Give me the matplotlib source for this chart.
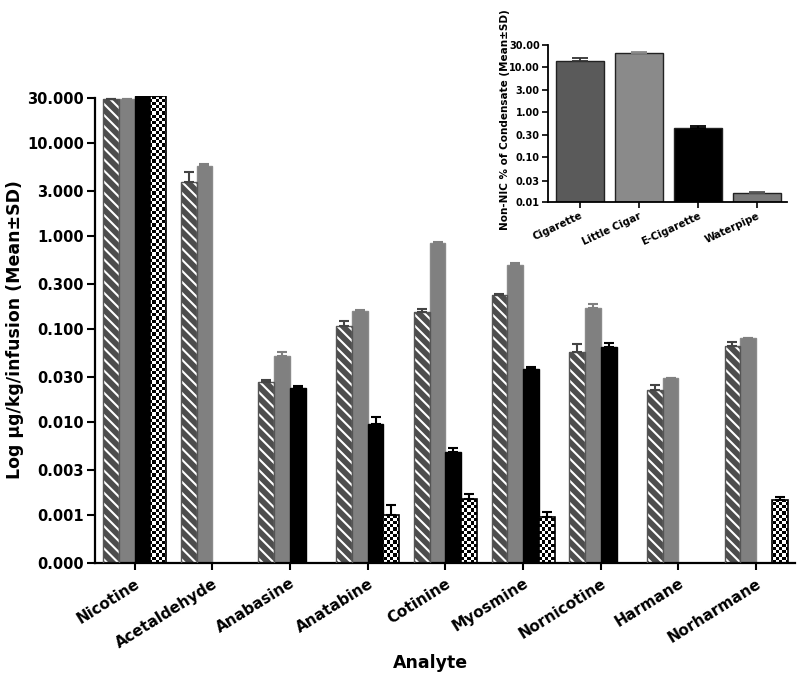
import numpy as np
import matplotlib
matplotlib.use("Agg")
import matplotlib.pyplot as plt
from matplotlib.ticker import FixedLocator, NullLocator

plt.rcParams['font.family'] = ['DejaVu Sans']
plt.rcParams['font.weight'] = 'bold'
plt.rcParams['hatch.linewidth'] = 1.5

analytes = ["Nicotine", "Acetaldehyde", "Anabasine", "Anatabine", "Cotinine",
            "Myosmine", "Nornicotine", "Harmane", "Norharmane"]
series_names = ["Cigarette", "Little Cigar", "E-Cigarette", "Waterpipe"]
nan = np.nan
cig_mean = [29.5, 3.8, 0.0265, 0.106, 0.152, 0.232, 0.0566, 0.0221, 0.0656]
cig_sd = [0.3, 1.04, 0.0016, 0.015, 0.011, 0.006, 0.012, 0.003, 0.007]
lc_mean = [29.5, 5.66, 0.0505, 0.156, 0.84, 0.487, 0.168, 0.0293, 0.0788]
lc_sd = [0.2, 0.29, 0.006, 0.002, 0.015, 0.018, 0.016, 0.0005, 0.001]
ec_mean = [31.5, nan, 0.0229, 0.0095, 0.00476, 0.0369, 0.063, nan, nan]
ec_sd = [0.3, nan, 0.001, 0.0016, 0.0004, 0.002, 0.007, nan, nan]
wp_mean = [31.5, nan, nan, 0.0010, 0.00146, 0.00095, nan, nan, 0.00145]
wp_sd = [0.3, nan, nan, 0.00027, 0.00021, 0.00011, nan, nan, 0.0001]

main_ticks = [0.0003, 0.001, 0.003, 0.01, 0.03, 0.1, 0.3, 1, 3, 10, 30]
main_ticklabels = ["0.000", "0.001", "0.003", "0.010", "0.030", "0.100",
                   "0.300", "1.000", "3.000", "10.000", "30.000"]

inset_cats = ["Cigarette", "Little Cigar", "E-Cigarette", "Waterpipe"]
inset_mean = [13.1, 20.4, 0.44, 0.0158]
inset_sd = [2.1, 0.4, 0.04, 0.0009]
inset_ticks = [0.01, 0.03, 0.1, 0.3, 1, 3, 10, 30]
inset_ticklabels = ["0.01", "0.03", "0.10", "0.30", "1.00", "3.00", "10.00", "30.00"]

fig = plt.figure(figsize=(8, 6.77), dpi=100)
ax = fig.add_axes([95 / 800, 1 - 563.3 / 677, 700 / 800, 467.6 / 677])
ax.set_yscale('log')
ymin, ymax = 0.0003, 32
ax.set_ylim(ymin, ymax)
ax.set_xlim(-0.51, 8.5)

x = np.arange(len(analytes))
w = 0.203
offs = [-1.5 * w, -0.5 * w, 0.5 * w, 1.5 * w]

# checkerboard image
ncx, ncy = int(700 / 3.2), int(467.6 / 3.2)
cb = (np.add.outer(np.arange(ncy), np.arange(ncx)) % 2).astype(float)

def draw_errors(xs, m, s, color):
    m = np.asarray(m, float); s = np.asarray(s, float)
    ok = ~np.isnan(m)
    ax.errorbar(xs[ok], m[ok], yerr=[np.zeros(ok.sum()), s[ok]], fmt='none',
                ecolor=color, elinewidth=1.5, capsize=3.5, capthick=1.5, zorder=4)

# Cigarette: hatched
m = np.asarray(cig_mean, float)
ok = ~np.isnan(m)
xs = x + offs[0]
ax.bar(xs[ok], m[ok] - ymin, w, bottom=ymin, color='#4d4d4d', edgecolor='white',
       hatch='\\\\\\', linewidth=0, zorder=2)
ax.bar(xs[ok], m[ok] - ymin, w, bottom=ymin, fill=False, edgecolor='#555555',
       linewidth=1.0, zorder=3)
draw_errors(xs, cig_mean, cig_sd, '#444444')

# Little cigar: gray
m = np.asarray(lc_mean, float); ok = ~np.isnan(m); xs = x + offs[1]
ax.bar(xs[ok], m[ok] - ymin, w, bottom=ymin, color='#808080', edgecolor='#8a8a8a',
       linewidth=1.0, zorder=2)
draw_errors(xs, lc_mean, lc_sd, '#808080')

# E-cig: black
m = np.asarray(ec_mean, float); ok = ~np.isnan(m); xs = x + offs[2]
ax.bar(xs[ok], m[ok] - ymin, w, bottom=ymin, color='black', edgecolor='black',
       linewidth=1.0, zorder=2)
draw_errors(xs, ec_mean, ec_sd, 'black')

# Waterpipe: checkerboard
m = np.asarray(wp_mean, float); ok = ~np.isnan(m); xs = x + offs[3]
bars = ax.bar(xs[ok], m[ok] - ymin, w, bottom=ymin, color='white', edgecolor='black',
              linewidth=1.2, zorder=3)
for b in bars:
    b.set_facecolor('none')
    im = ax.imshow(cb, cmap='gray', extent=[0, 1, 0, 1], transform=ax.transAxes,
                   interpolation='nearest', aspect='auto', zorder=2)
    im.set_clip_path(b)
ax.set_aspect('auto')
ax.set_xlim(-0.51, 8.5)
ax.set_ylim(ymin, ymax)
draw_errors(xs, wp_mean, wp_sd, 'black')

ax.yaxis.set_major_locator(FixedLocator(main_ticks))
ax.yaxis.set_minor_locator(NullLocator())
ax.set_yticklabels(main_ticklabels, fontsize=10.5, fontweight='bold')
ax.set_xticks(x)
ax.set_xticklabels(analytes, rotation=32, ha='right', rotation_mode='anchor',
                   fontsize=11, fontweight='bold')
for sp in ['top', 'right']:
    ax.spines[sp].set_visible(False)
for sp in ['left', 'bottom']:
    ax.spines[sp].set_linewidth(1.6)
ax.spines['left'].set_bounds(ymin, 30)
ax.tick_params(axis='y', length=6, width=1.5, pad=2)
ax.tick_params(axis='x', length=5, width=1.5, pad=4)
ax.set_ylabel("Log μg/kg/infusion (Mean±SD)", fontsize=12.5, fontweight='bold',
              va='center')
ax.yaxis.set_label_coords(-80 / 700, (563.3 - 330) / 467.6)
ax.set_xlabel("Analyte", fontsize=12.5, fontweight='bold')
ax.xaxis.set_label_coords((430 - 95) / 700, -(663 - 563.3) / 467.6)
ax.xaxis.label.set_va('center')

# Inset
ax2 = fig.add_axes([548 / 800, 1 - 202.3 / 677, 239 / 800, 157.3 / 677])
ax2.set_yscale('log')
ax2.set_ylim(0.01, 30)
ax2.set_xlim(-0.54, 3.51)
xi = np.arange(len(inset_cats))
icolors = ['#5a5a5a', '#8a8a8a', '#000000', '#7a7a7a']
iecolors = ['#333333', '#8a8a8a', '#000000', '#555555']
ax2.bar(xi, np.asarray(inset_mean) - 0.01, 0.81, bottom=0.01, color=icolors,
        edgecolor='#222222', linewidth=1.0, zorder=2)
for i in range(len(xi)):
    ax2.errorbar(xi[i], inset_mean[i], yerr=[[0], [inset_sd[i]]], fmt='none',
                 ecolor=iecolors[i], elinewidth=1.3, capsize=6, capthick=1.3, zorder=3)
ax2.yaxis.set_major_locator(FixedLocator(inset_ticks))
ax2.yaxis.set_minor_locator(NullLocator())
ax2.set_yticklabels(inset_ticklabels, fontsize=7, fontweight='bold')
ax2.set_xticks(xi)
ax2.set_xticklabels(inset_cats, rotation=25, ha='right', rotation_mode='anchor',
                    fontsize=7.3, fontweight='bold')
for sp in ['top', 'right']:
    ax2.spines[sp].set_visible(False)
for sp in ['left', 'bottom']:
    ax2.spines[sp].set_linewidth(1.3)
ax2.tick_params(axis='both', length=4, width=1.2, pad=2)
ax2.set_ylabel("Non-NIC % of Condensate (Mean±SD)", fontsize=7.5, fontweight='bold',
               va='center')
ax2.yaxis.set_label_coords(-(548 - 505) / 239, (202.3 - 120) / 157.3)

fig.savefig("out.png", dpi=100)
